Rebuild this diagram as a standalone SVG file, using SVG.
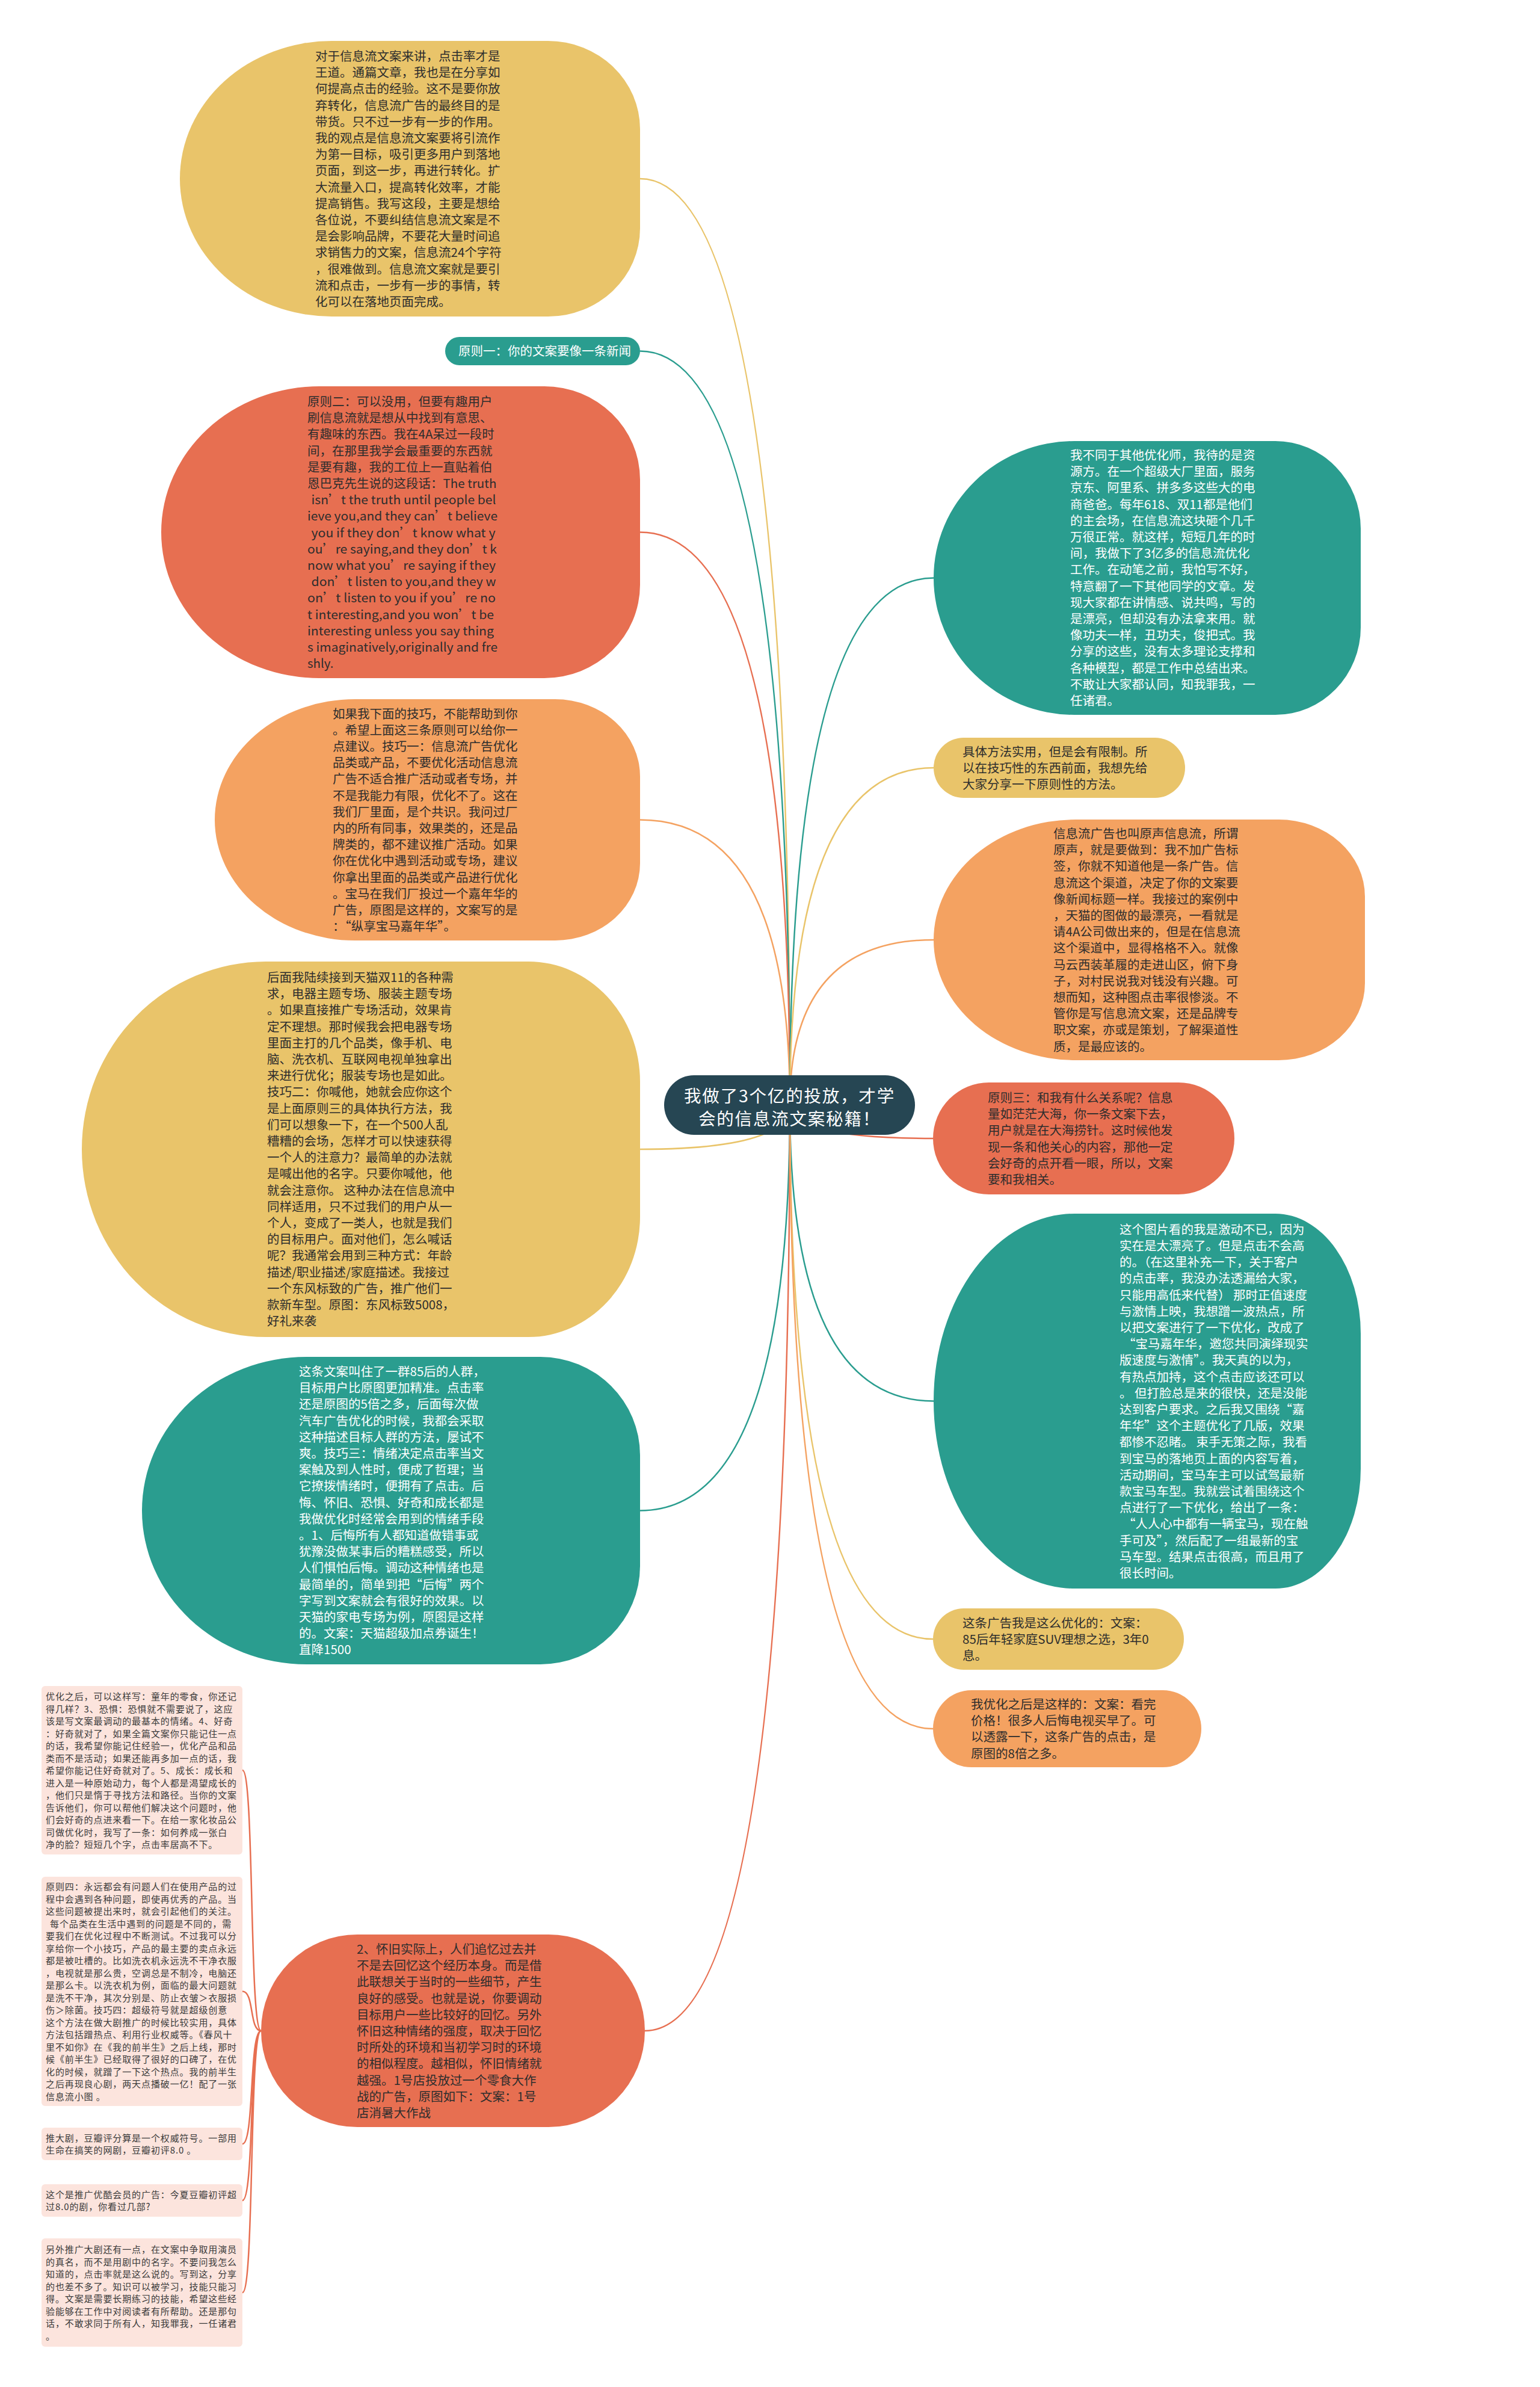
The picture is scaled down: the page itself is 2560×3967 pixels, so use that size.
<svg xmlns="http://www.w3.org/2000/svg" width="2560" height="3967" viewBox="0 0 2560 3967">
<style>
.t{font-family:"Noto Sans CJK SC","Noto Sans",sans-serif;font-size:20.5px;fill:#2d2d2d}
.w{fill:#ffffff}
.r{font-family:"Noto Sans CJK SC","Noto Sans",sans-serif;font-size:28.5px;letter-spacing:1.8px;fill:#ffffff;text-anchor:middle}
.s{font-family:"Noto Sans CJK SC","Noto Sans",sans-serif;font-size:15px;letter-spacing:0.9px;fill:#3a3a3a}
.c{fill:none;stroke-width:2.5}
.y{fill:#E9C46A}.g{fill:#2A9D8F}.o{fill:#F4A261}.d{fill:#E76F51}.p{fill:#FCE4DD}
.cy{stroke:#E9C46A}.cg{stroke:#2A9D8F}.co{stroke:#F4A261}.cd{stroke:#E76F51}
</style>
<rect width="2560" height="3967" fill="#ffffff"/>
<g id="connectors">
<path class="c cy" d="M1313,1836 Q1313,297 1064,297"/>
<path class="c cg" d="M1313,1836 Q1313,583.5 1064,583.5"/>
<path class="c cd" d="M1313,1836 Q1313,884.5 1064,884.5"/>
<path class="c co" d="M1313,1836 Q1313,1362.5 1064,1362.5"/>
<path class="c cy" d="M1313,1836 Q1313,1910 1064,1910"/>
<path class="c cg" d="M1313,1836 Q1313,2510.5 1064,2510.5"/>
<path class="c cd" d="M1313,1836 Q1313,3375 1072,3375"/>
<path class="c cg" d="M1313,1836 Q1313,960.5 1552,960.5"/>
<path class="c cy" d="M1313,1836 Q1313,1276 1552,1276"/>
<path class="c co" d="M1313,1836 Q1313,1562 1552,1562"/>
<path class="c cd" d="M1313,1836 Q1313,1892 1551,1892"/>
<path class="c cg" d="M1313,1836 Q1313,2328.5 1552,2328.5"/>
<path class="c cy" d="M1313,1836 Q1313,2724 1551,2724"/>
<path class="c co" d="M1313,1836 Q1313,2873 1551,2873"/>
<path class="c cd" d="M434,3375 C414,3375 423,2942 403,2942"/>
<path class="c cd" d="M434,3375 C414,3375 423,3309.5 403,3309.5"/>
<path class="c cd" d="M434,3375 C414,3375 423,3563 403,3563"/>
<path class="c cd" d="M434,3375 C414,3375 423,3657 403,3657"/>
<path class="c cd" d="M434,3375 C414,3375 423,3810 403,3810"/>
</g>

<g id="root">
<rect x="1104" y="1787" width="417" height="99" rx="49.5" fill="#264653"/>
<text class="r" x="1312.5" y="1832"><tspan x="1312.5">我做了3个亿的投放，才学</tspan><tspan x="1312.5" dy="38">会的信息流文案秘籍！</tspan></text>
</g>

<g id="n-left-1">
<path class="y" d="M551.5,68 H911 A153,146.6 0 0 1 1064,214.6 V379.4 A153,146.6 0 0 1 911,526 H551.5 A252.5,229 0 0 1 299,297 A252.5,229 0 0 1 551.5,68 Z"/>
<text class="t" x="524" y="101"><tspan x="524">对于信息流文案来讲，点击率才是</tspan><tspan x="524" dy="27.2">王道。通篇文章，我也是在分享如</tspan><tspan x="524" dy="27.2">何提高点击的经验。这不是要你放</tspan><tspan x="524" dy="27.2">弃转化，信息流广告的最终目的是</tspan><tspan x="524" dy="27.2">带货。只不过一步有一步的作用。</tspan><tspan x="524" dy="27.2">我的观点是信息流文案要将引流作</tspan><tspan x="524" dy="27.2">为第一目标，吸引更多用户到落地</tspan><tspan x="524" dy="27.2">页面，到这一步，再进行转化。扩</tspan><tspan x="524" dy="27.2">大流量入口，提高转化效率，才能</tspan><tspan x="524" dy="27.2">提高销售。我写这段，主要是想给</tspan><tspan x="524" dy="27.2">各位说，不要纠结信息流文案是不</tspan><tspan x="524" dy="27.2">是会影响品牌，不要花大量时间追</tspan><tspan x="524" dy="27.2">求销售力的文案，信息流24个字符</tspan><tspan x="524" dy="27.2">，很难做到。信息流文案就是要引</tspan><tspan x="524" dy="27.2">流和点击，一步有一步的事情，转</tspan><tspan x="524" dy="27.2">化可以在落地页面完成。</tspan></text>
</g>

<g id="n-left-2">
<rect class="g" x="740" y="560" width="324" height="47" rx="23.5"/>
<text class="t w" x="762" y="591">原则一：你的文案要像一条新闻</text>
</g>

<g id="n-left-3">
<path class="d" d="M530.7,642 H904.8 A159.2,155.2 0 0 1 1064,797.2 V971.8 A159.2,155.2 0 0 1 904.8,1127 H530.7 A262.7,242.5 0 0 1 268,884.5 A262.7,242.5 0 0 1 530.7,642 Z"/>
<text class="t" x="511" y="675"><tspan x="511">原则二：可以没用，但要有趣用户</tspan><tspan x="511" dy="27.2">刷信息流就是想从中找到有意思、</tspan><tspan x="511" dy="27.2">有趣味的东西。我在4A呆过一段时</tspan><tspan x="511" dy="27.2">间，在那里我学会最重要的东西就</tspan><tspan x="511" dy="27.2">是要有趣，我的工位上一直贴着伯</tspan><tspan x="511" dy="27.2">恩巴克先生说的这段话：The truth</tspan><tspan x="517.5" dy="27.2" textLength="307" lengthAdjust="spacingAndGlyphs">isn’t the truth until people bel</tspan><tspan x="511" dy="27.2" textLength="316" lengthAdjust="spacingAndGlyphs">ieve you,and they can’t believe</tspan><tspan x="517.5" dy="27.2" textLength="306" lengthAdjust="spacingAndGlyphs">you if they don’t know what y</tspan><tspan x="511" dy="27.2" textLength="315" lengthAdjust="spacingAndGlyphs">ou’re saying,and they don’t k</tspan><tspan x="511" dy="27.2" textLength="313" lengthAdjust="spacingAndGlyphs">now what you’re saying if they</tspan><tspan x="517.5" dy="27.2" textLength="307" lengthAdjust="spacingAndGlyphs">don’t listen to you,and they w</tspan><tspan x="511" dy="27.2" textLength="313" lengthAdjust="spacingAndGlyphs">on’t listen to you if you’re no</tspan><tspan x="511" dy="27.2" textLength="310" lengthAdjust="spacingAndGlyphs">t interesting,and you won’t be</tspan><tspan x="511" dy="27.2" textLength="310" lengthAdjust="spacingAndGlyphs">interesting unless you say thing</tspan><tspan x="511" dy="27.2" textLength="316" lengthAdjust="spacingAndGlyphs">s imaginatively,originally and fre</tspan><tspan x="511" dy="27.2">shly.</tspan></text>
</g>

<g id="n-left-4">
<path class="o" d="M590.3,1162 H922.6 A141.4,128.3 0 0 1 1064,1290.3 V1434.7 A141.4,128.3 0 0 1 922.6,1563 H590.3 A233.3,200.5 0 0 1 357,1362.5 A233.3,200.5 0 0 1 590.3,1162 Z"/>
<text class="t" x="553" y="1193.5"><tspan x="553">如果我下面的技巧，不能帮助到你</tspan><tspan x="553" dy="27.2">。希望上面这三条原则可以给你一</tspan><tspan x="553" dy="27.2">点建议。技巧一：信息流广告优化</tspan><tspan x="553" dy="27.2">品类或产品，不要优化活动信息流</tspan><tspan x="553" dy="27.2">广告不适合推广活动或者专场，并</tspan><tspan x="553" dy="27.2">不是我能力有限，优化不了。这在</tspan><tspan x="553" dy="27.2">我们厂里面，是个共识。我问过厂</tspan><tspan x="553" dy="27.2">内的所有同事，效果类的，还是品</tspan><tspan x="553" dy="27.2">牌类的，都不建议推广活动。如果</tspan><tspan x="553" dy="27.2">你在优化中遇到活动或专场，建议</tspan><tspan x="553" dy="27.2">你拿出里面的品类或产品进行优化</tspan><tspan x="553" dy="27.2">。宝马在我们厂投过一个嘉年华的</tspan><tspan x="553" dy="27.2">广告，原图是这样的，文案写的是</tspan><tspan x="553" dy="27.2">：“纵享宝马嘉年华”。</tspan></text>
</g>

<g id="n-left-5">
<path class="y" d="M442.2,1598 H878.4 A185.6,199.7 0 0 1 1064,1797.7 V2022.3 A185.6,199.7 0 0 1 878.4,2222 H442.2 A306.2,312 0 0 1 136,1910 A306.2,312 0 0 1 442.2,1598 Z"/>
<text class="t" x="444" y="1632"><tspan x="444">后面我陆续接到天猫双11的各种需</tspan><tspan x="444" dy="27.2">求，电器主题专场、服装主题专场</tspan><tspan x="444" dy="27.2">。如果直接推广专场活动，效果肯</tspan><tspan x="444" dy="27.2">定不理想。那时候我会把电器专场</tspan><tspan x="444" dy="27.2">里面主打的几个品类，像手机、电</tspan><tspan x="444" dy="27.2">脑、洗衣机、互联网电视单独拿出</tspan><tspan x="444" dy="27.2">来进行优化；服装专场也是如此。</tspan><tspan x="444" dy="27.2">技巧二：你喊他，她就会应你这个</tspan><tspan x="444" dy="27.2">是上面原则三的具体执行方法，我</tspan><tspan x="444" dy="27.2">们可以想象一下，在一个500人乱</tspan><tspan x="444" dy="27.2">糟糟的会场，怎样才可以快速获得</tspan><tspan x="444" dy="27.2">一个人的注意力？最简单的办法就</tspan><tspan x="444" dy="27.2">是喊出他的名字。只要你喊他，他</tspan><tspan x="444" dy="27.2">就会注意你。 这种办法在信息流中</tspan><tspan x="444" dy="27.2">同样适用，只不过我们的用户从一</tspan><tspan x="444" dy="27.2">个人，变成了一类人，也就是我们</tspan><tspan x="444" dy="27.2">的目标用户。面对他们，怎么喊话</tspan><tspan x="444" dy="27.2">呢？我通常会用到三种方式：年龄</tspan><tspan x="444" dy="27.2">描述/职业描述/家庭描述。我接过</tspan><tspan x="444" dy="27.2">一个东风标致的广告，推广他们一</tspan><tspan x="444" dy="27.2">款新车型。原图：东风标致5008，</tspan><tspan x="444" dy="27.2">好礼来袭</tspan></text>
</g>

<g id="n-left-6">
<path class="g" d="M509.2,2255 H898.4 A165.6,163.5 0 0 1 1064,2418.5 V2602.5 A165.6,163.5 0 0 1 898.4,2766 H509.2 A273.2,255.5 0 0 1 236,2510.5 A273.2,255.5 0 0 1 509.2,2255 Z"/>
<text class="t w" x="497" y="2287"><tspan x="497">这条文案叫住了一群85后的人群，</tspan><tspan x="497" dy="27.2">目标用户比原图更加精准。点击率</tspan><tspan x="497" dy="27.2">还是原图的5倍之多，后面每次做</tspan><tspan x="497" dy="27.2">汽车广告优化的时候，我都会采取</tspan><tspan x="497" dy="27.2">这种描述目标人群的方法，屡试不</tspan><tspan x="497" dy="27.2">爽。技巧三：情绪决定点击率当文</tspan><tspan x="497" dy="27.2">案触及到人性时，便成了哲理；当</tspan><tspan x="497" dy="27.2">它撩拨情绪时，便拥有了点击。后</tspan><tspan x="497" dy="27.2">悔、怀旧、恐惧、好奇和成长都是</tspan><tspan x="497" dy="27.2">我做优化时经常会用到的情绪手段</tspan><tspan x="497" dy="27.2">。1、后悔所有人都知道做错事或</tspan><tspan x="497" dy="27.2">犹豫没做某事后的糟糕感受，所以</tspan><tspan x="497" dy="27.2">人们惧怕后悔。调动这种情绪也是</tspan><tspan x="497" dy="27.2">最简单的，简单到把“后悔”两个</tspan><tspan x="497" dy="27.2">字写到文案就会有很好的效果。以</tspan><tspan x="497" dy="27.2">天猫的家电专场为例，原图是这样</tspan><tspan x="497" dy="27.2">的。文案：天猫超级加点券诞生！</tspan><tspan x="497" dy="27.2">直降1500</tspan></text>
</g>

<g id="n-left-7">
<rect class="d" x="434" y="3215" width="638" height="320" rx="160"/>
<text class="t" x="593" y="3247"><tspan x="593">2、怀旧实际上，人们追忆过去并</tspan><tspan x="593" dy="27.2">不是去回忆这个经历本身。而是借</tspan><tspan x="593" dy="27.2">此联想关于当时的一些细节，产生</tspan><tspan x="593" dy="27.2">良好的感受。也就是说，你要调动</tspan><tspan x="593" dy="27.2">目标用户一些比较好的回忆。另外</tspan><tspan x="593" dy="27.2">怀旧这种情绪的强度，取决于回忆</tspan><tspan x="593" dy="27.2">时所处的环境和当初学习时的环境</tspan><tspan x="593" dy="27.2">的相似程度。越相似，怀旧情绪就</tspan><tspan x="593" dy="27.2">越强。1号店投放过一个零食大作</tspan><tspan x="593" dy="27.2">战的广告，原图如下：文案：1号</tspan><tspan x="593" dy="27.2">店消暑大作战</tspan></text>
</g>

<g id="n-box-1">
<rect class="p" x="69" y="2802" width="334" height="280" rx="6"/>
<text class="s" x="76" y="2825"><tspan x="76">优化之后，可以这样写：童年的零食，你还记</tspan><tspan x="76" dy="20.5">得几样？3、恐惧：恐惧就不需要说了，这应</tspan><tspan x="76" dy="20.5">该是写文案最调动的最基本的情绪。4、好奇</tspan><tspan x="76" dy="20.5">：好奇就对了，如果全篇文案你只能记住一点</tspan><tspan x="76" dy="20.5">的话，我希望你能记住经验一，优化产品和品</tspan><tspan x="76" dy="20.5">类而不是活动；如果还能再多加一点的话，我</tspan><tspan x="76" dy="20.5">希望你能记住好奇就对了。5、成长：成长和</tspan><tspan x="76" dy="20.5">进入是一种原始动力，每个人都是渴望成长的</tspan><tspan x="76" dy="20.5">，他们只是惰于寻找方法和路径。当你的文案</tspan><tspan x="76" dy="20.5">告诉他们，你可以帮他们解决这个问题时，他</tspan><tspan x="76" dy="20.5">们会好奇的点进来看一下。在给一家化妆品公</tspan><tspan x="76" dy="20.5">司做优化时，我写了一条：如何养成一张白</tspan><tspan x="76" dy="20.5">净的脸？短短几个字，点击率居高不下。</tspan></text>
</g>

<g id="n-box-2">
<rect class="p" x="69" y="3119" width="334" height="381" rx="6"/>
<text class="s" x="76" y="3141"><tspan x="76">原则四：永远都会有问题人们在使用产品的过</tspan><tspan x="76" dy="20.5">程中会遇到各种问题，即使再优秀的产品。当</tspan><tspan x="76" dy="20.5">这些问题被提出来时，就会引起他们的关注。</tspan><tspan x="83" dy="20.5">每个品类在生活中遇到的问题是不同的，需</tspan><tspan x="76" dy="20.5">要我们在优化过程中不断测试。不过我可以分</tspan><tspan x="76" dy="20.5">享给你一个小技巧，产品的最主要的卖点永远</tspan><tspan x="76" dy="20.5">都是被吐槽的。比如洗衣机永远洗不干净衣服</tspan><tspan x="76" dy="20.5">，电视就是那么贵，空调总是不制冷，电脑还</tspan><tspan x="76" dy="20.5">是那么卡。以洗衣机为例，面临的最大问题就</tspan><tspan x="76" dy="20.5">是洗不干净，其次分别是、防止衣皱＞衣服损</tspan><tspan x="76" dy="20.5">伤＞除菌。技巧四：超级符号就是超级创意</tspan><tspan x="76" dy="20.5">这个方法在做大剧推广的时候比较实用，具体</tspan><tspan x="76" dy="20.5">方法包括蹭热点、利用行业权威等。《春风十</tspan><tspan x="76" dy="20.5">里不如你》在《我的前半生》之后上线，那时</tspan><tspan x="76" dy="20.5">候《前半生》已经取得了很好的口碑了，在优</tspan><tspan x="76" dy="20.5">化的时候，就蹭了一下这个热点。我的前半生</tspan><tspan x="76" dy="20.5">之后再现良心剧，两天点播破一亿！配了一张</tspan><tspan x="76" dy="20.5">信息流小图 。</tspan></text>
</g>

<g id="n-box-3">
<rect class="p" x="69" y="3536" width="334" height="54" rx="6"/>
<text class="s" x="76" y="3558.5"><tspan x="76">推大剧，豆瓣评分算是一个权威符号。一部用</tspan><tspan x="76" dy="20.5">生命在搞笑的网剧，豆瓣初评8.0 。</tspan></text>
</g>

<g id="n-box-4">
<rect class="p" x="69" y="3630" width="334" height="54" rx="6"/>
<text class="s" x="76" y="3652.5"><tspan x="76">这个是推广优酷会员的广告：今夏豆瓣初评超</tspan><tspan x="76" dy="20.5">过8.0的剧，你看过几部?</tspan></text>
</g>

<g id="n-box-5">
<rect class="p" x="69" y="3720" width="334" height="180" rx="6"/>
<text class="s" x="76" y="3744"><tspan x="76">另外推广大剧还有一点，在文案中争取用演员</tspan><tspan x="76" dy="20.5">的真名，而不是用剧中的名字。不要问我怎么</tspan><tspan x="76" dy="20.5">知道的，点击率就是这么说的。写到这，分享</tspan><tspan x="76" dy="20.5">的也差不多了。知识可以被学习，技能只能习</tspan><tspan x="76" dy="20.5">得。文案是需要长期练习的技能，希望这些经</tspan><tspan x="76" dy="20.5">验能够在工作中对阅读者有所帮助。还是那句</tspan><tspan x="76" dy="20.5">话，不敢求同于所有人，知我罪我，一任诸君</tspan><tspan x="76" dy="20.5">。</tspan></text>
</g>

<g id="n-right-1">
<path class="g" d="M1786.3,733 H2120 A142,145.6 0 0 1 2262,878.6 V1042.4 A142,145.6 0 0 1 2120,1188 H1786.3 A234.3,227.5 0 0 1 1552,960.5 A234.3,227.5 0 0 1 1786.3,733 Z"/>
<text class="t w" x="1779" y="764"><tspan x="1779">我不同于其他优化师，我待的是资</tspan><tspan x="1779" dy="27.2">源方。在一个超级大厂里面，服务</tspan><tspan x="1779" dy="27.2">京东、阿里系、拼多多这些大的电</tspan><tspan x="1779" dy="27.2">商爸爸。每年618、双11都是他们</tspan><tspan x="1779" dy="27.2">的主会场，在信息流这块砸个几千</tspan><tspan x="1779" dy="27.2">万很正常。就这样，短短几年的时</tspan><tspan x="1779" dy="27.2">间，我做下了3亿多的信息流优化</tspan><tspan x="1779" dy="27.2">工作。在动笔之前，我怕写不好，</tspan><tspan x="1779" dy="27.2">特意翻了一下其他同学的文章。发</tspan><tspan x="1779" dy="27.2">现大家都在讲情感、说共鸣，写的</tspan><tspan x="1779" dy="27.2">是漂亮，但却没有办法拿来用。就</tspan><tspan x="1779" dy="27.2">像功夫一样，丑功夫，俊把式。我</tspan><tspan x="1779" dy="27.2">分享的这些，没有太多理论支撑和</tspan><tspan x="1779" dy="27.2">各种模型，都是工作中总结出来。</tspan><tspan x="1779" dy="27.2">不敢让大家都认同，知我罪我，一</tspan><tspan x="1779" dy="27.2">任诸君。</tspan></text>
</g>

<g id="n-right-2">
<rect class="y" x="1552" y="1226" width="418" height="100" rx="50"/>
<text class="t" x="1600" y="1256.5"><tspan x="1600">具体方法实用，但是会有限制。所</tspan><tspan x="1600" dy="27.2">以在技巧性的东西前面，我想先给</tspan><tspan x="1600" dy="27.2">大家分享一下原则性的方法。</tspan></text>
</g>

<g id="n-right-3">
<path class="o" d="M1788.6,1362 H2125.6 A143.4,128 0 0 1 2269,1490 V1634 A143.4,128 0 0 1 2125.6,1762 H1788.6 A236.6,200 0 0 1 1552,1562 A236.6,200 0 0 1 1788.6,1362 Z"/>
<text class="t" x="1751" y="1393"><tspan x="1751">信息流广告也叫原声信息流，所谓</tspan><tspan x="1751" dy="27.2">原声，就是要做到：我不加广告标</tspan><tspan x="1751" dy="27.2">签，你就不知道他是一条广告。信</tspan><tspan x="1751" dy="27.2">息流这个渠道，决定了你的文案要</tspan><tspan x="1751" dy="27.2">像新闻标题一样。我接过的案例中</tspan><tspan x="1751" dy="27.2">，天猫的图做的最漂亮，一看就是</tspan><tspan x="1751" dy="27.2">请4A公司做出来的，但是在信息流</tspan><tspan x="1751" dy="27.2">这个渠道中，显得格格不入。就像</tspan><tspan x="1751" dy="27.2">马云西装革履的走进山区，俯下身</tspan><tspan x="1751" dy="27.2">子，对村民说我对钱没有兴趣。可</tspan><tspan x="1751" dy="27.2">想而知，这种图点击率很惨淡。不</tspan><tspan x="1751" dy="27.2">管你是写信息流文案，还是品牌专</tspan><tspan x="1751" dy="27.2">职文案，亦或是策划，了解渠道性</tspan><tspan x="1751" dy="27.2">质，是最应该的。</tspan></text>
</g>

<g id="n-right-4">
<rect class="d" x="1551" y="1799" width="501" height="186" rx="93"/>
<text class="t" x="1642" y="1832"><tspan x="1642">原则三：和我有什么关系呢？信息</tspan><tspan x="1642" dy="27.2">量如茫茫大海，你一条文案下去，</tspan><tspan x="1642" dy="27.2">用户就是在大海捞针。这时候他发</tspan><tspan x="1642" dy="27.2">现一条和他关心的内容，那他一定</tspan><tspan x="1642" dy="27.2">会好奇的点开看一眼，所以，文案</tspan><tspan x="1642" dy="27.2">要和我相关。</tspan></text>
</g>

<g id="n-right-5">
<path class="g" d="M1786.3,2017 H2120 A142,199.4 0 0 1 2262,2216.4 V2440.6 A142,199.4 0 0 1 2120,2640 H1786.3 A234.3,311.5 0 0 1 1552,2328.5 A234.3,311.5 0 0 1 1786.3,2017 Z"/>
<text class="t w" x="1861" y="2050.7"><tspan x="1861">这个图片看的我是激动不已，因为</tspan><tspan x="1861" dy="27.2">实在是太漂亮了。但是点击不会高</tspan><tspan x="1861" dy="27.2">的。（在这里补充一下，关于客户</tspan><tspan x="1861" dy="27.2">的点击率，我没办法透漏给大家，</tspan><tspan x="1861" dy="27.2">只能用高低来代替） 那时正值速度</tspan><tspan x="1861" dy="27.2">与激情上映，我想蹭一波热点，所</tspan><tspan x="1861" dy="27.2">以把文案进行了一下优化，改成了</tspan><tspan x="1867" dy="27.2">“宝马嘉年华，邀您共同演绎现实</tspan><tspan x="1861" dy="27.2">版速度与激情”。我天真的以为，</tspan><tspan x="1861" dy="27.2">有热点加持，这个点击应该还可以</tspan><tspan x="1861" dy="27.2">。 但打脸总是来的很快，还是没能</tspan><tspan x="1861" dy="27.2">达到客户要求。之后我又围绕“嘉</tspan><tspan x="1861" dy="27.2">年华”这个主题优化了几版，效果</tspan><tspan x="1861" dy="27.2">都惨不忍睹。 束手无策之际，我看</tspan><tspan x="1861" dy="27.2">到宝马的落地页上面的内容写着，</tspan><tspan x="1861" dy="27.2">活动期间，宝马车主可以试驾最新</tspan><tspan x="1861" dy="27.2">款宝马车型。我就尝试着围绕这个</tspan><tspan x="1861" dy="27.2">点进行了一下优化，给出了一条：</tspan><tspan x="1867" dy="27.2">“人人心中都有一辆宝马，现在触</tspan><tspan x="1861" dy="27.2">手可及”，然后配了一组最新的宝</tspan><tspan x="1861" dy="27.2">马车型。结果点击很高，而且用了</tspan><tspan x="1861" dy="27.2">很长时间。</tspan></text>
</g>

<g id="n-right-6">
<rect class="y" x="1551" y="2673" width="417" height="102" rx="51"/>
<text class="t" x="1600" y="2704.5"><tspan x="1600">这条广告我是这么优化的：文案：</tspan><tspan x="1600" dy="27.2">85后年轻家庭SUV理想之选，3年0</tspan><tspan x="1600" dy="27.2">息。</tspan></text>
</g>

<g id="n-right-7">
<rect class="o" x="1551" y="2809" width="446" height="128" rx="64"/>
<text class="t" x="1614" y="2840"><tspan x="1614">我优化之后是这样的：文案：看完</tspan><tspan x="1614" dy="27.2">价格！很多人后悔电视买早了。可</tspan><tspan x="1614" dy="27.2">以透露一下，这条广告的点击，是</tspan><tspan x="1614" dy="27.2">原图的8倍之多。</tspan></text>
</g>
</svg>
